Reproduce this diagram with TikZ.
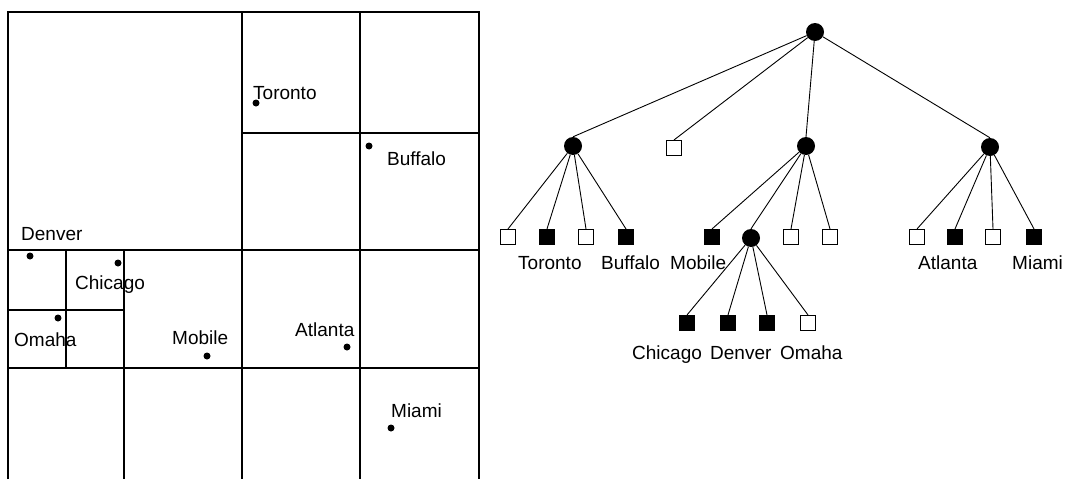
\documentclass[tikz,border=0pt]{standalone}
\usepackage{fontspec}
\setmainfont{Liberation Sans}
\begin{document}
\begin{tikzpicture}[x=1pt,y=-1pt,
  grid/.style={line width=1.3pt},
  city/.style={circle,fill=black,inner sep=0pt,minimum size=7pt},
  lbl/.style={inner sep=0pt,anchor=base west,font=\fontsize{19}{22}\selectfont},
  inner/.style={circle,fill=black,inner sep=0pt,minimum size=18pt},
  leaf/.style={rectangle,draw,line width=1.1pt,inner sep=0pt,minimum size=15pt},
  full/.style={leaf,fill=black},
  empty/.style={leaf,fill=white},
  edge/.style={line width=0.9pt}]
\useasboundingbox (0,0) rectangle (1065,479);
% ---- map grid ----
\draw[grid] (8,479) -- (8,12) -- (479,12) -- (479,479);
\draw[grid] (242,12) -- (242,479);
\draw[grid] (360,12) -- (360,479);
\draw[grid] (242,133) -- (479,133);
\draw[grid] (8,250) -- (479,250);
\draw[grid] (8,368) -- (479,368);
\draw[grid] (124,250) -- (124,479);
\draw[grid] (66,250) -- (66,368);
\draw[grid] (8,310) -- (124,310);
% ---- cities ----
\node[city] (pTor) at (256,103) {};
\node[city] (pBuf) at (369,146) {};
\node[city] (pDen) at (30,256) {};
\node[city] (pChi) at (118,263) {};
\node[city] (pOma) at (58,318) {};
\node[city] (pMob) at (207,356) {};
\node[city] (pAtl) at (347,347) {};
\node[city] (pMia) at (391,428) {};
\node[lbl] (lTor) at (253,99) {Toronto};
\node[lbl] (lBuf) at (387,165) {Buffalo};
\node[lbl] (lDen) at (21,240) {Denver};
\node[lbl] (lChi) at (75,289) {Chicago};
\node[lbl] (lOma) at (14,346) {Omaha};
\node[lbl] (lMob) at (172,344) {Mobile};
\node[lbl] (lAtl) at (295,336) {Atlanta};
\node[lbl] (lMia) at (391,417) {Miami};
% ---- tree ----
\node[inner] (R) at (815,32) {};
\node[inner] (A) at (573,146) {};
\node[empty] (B) at (674,148) {};
\node[inner] (C) at (806,146) {};
\node[inner] (D) at (990,147) {};
\node[empty] (A1) at (508,237) {};
\node[full]  (A2) at (547,237) {};
\node[empty] (A3) at (586,237) {};
\node[full]  (A4) at (626,237) {};
\node[full]  (C1) at (712,237) {};
\node[inner] (E)  at (751,238) {};
\node[empty] (C3) at (791,237) {};
\node[empty] (C4) at (830,237) {};
\node[empty] (D1) at (917,237) {};
\node[full]  (D2) at (955,237) {};
\node[empty] (D3) at (993,237) {};
\node[full]  (D4) at (1034,237) {};
\node[full]  (E1) at (687,323) {};
\node[full]  (E2) at (728,323) {};
\node[full]  (E3) at (767,323) {};
\node[empty] (E4) at (808,323) {};
\foreach \p/\c in {R/A,R/B,R/C,R/D,A/A1,A/A2,A/A3,A/A4,C/C1,C/E,C/C3,C/C4,D/D1,D/D2,D/D3,D/D4,E/E1,E/E2,E/E3,E/E4}
  \draw[edge] (\p) -- (\c.north);
\node[lbl] (tTor) at (518,269) {Toronto};
\node[lbl] (tBuf) at (601,269) {Buffalo};
\node[lbl] (tMob) at (670,269) {Mobile};
\node[lbl] (tAtl) at (918,269) {Atlanta};
\node[lbl] (tMia) at (1012,269) {Miami};
\node[lbl] (tChi) at (632,359) {Chicago};
\node[lbl] (tDen) at (710,359) {Denver};
\node[lbl] (tOma) at (780,359) {Omaha};
\end{tikzpicture}
\end{document}
